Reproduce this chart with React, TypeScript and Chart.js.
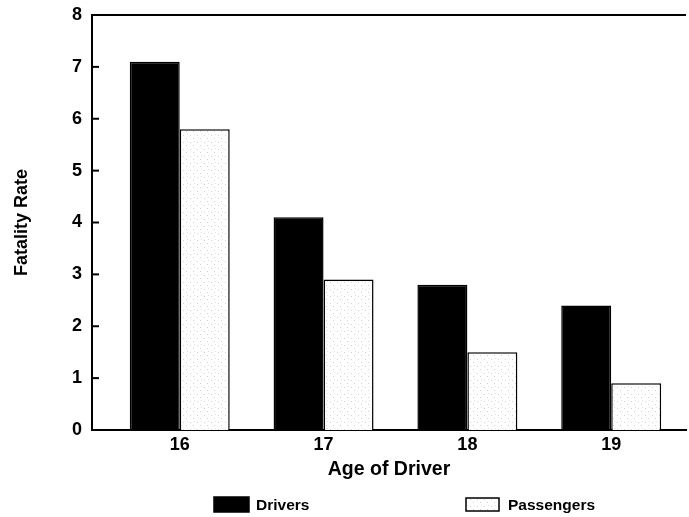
import React, { useEffect, useRef } from "react";
import { Chart, registerables } from "chart.js";

Chart.register(...registerables);

const ages = [16, 17, 18, 19];
const drivers = [7.1, 4.1, 2.8, 2.4];
const passengers = [5.8, 2.9, 1.5, 0.9];
const yTickValues = [0, 1, 2, 3, 4, 5, 6, 7, 8];
const seriesNames = ["Drivers", "Passengers"];

const FONT = '"Liberation Sans", Arial, Helvetica, sans-serif';

function makePattern(): CanvasPattern | string {
  const c = document.createElement("canvas");
  c.width = 7;
  c.height = 7;
  const g = c.getContext("2d");
  if (!g) return "#f6f6f6";
  g.fillStyle = "#ffffff";
  g.fillRect(0, 0, 7, 7);
  g.fillStyle = "#d2d2d2";
  g.fillRect(1, 2, 1, 1);
  g.fillRect(4, 5, 1, 1);
  g.fillStyle = "#e4e4e4";
  g.fillRect(5, 1, 1, 1);
  const p = g.createPattern(c, "repeat");
  return p || "#f6f6f6";
}

const framePlugin = {
  id: "frame",
  afterDraw(chart: any) {
    const { ctx, chartArea, scales } = chart;
    const y = scales.y;
    ctx.save();
    ctx.strokeStyle = "#000";
    ctx.lineWidth = 2;
    ctx.beginPath();
    ctx.moveTo(chartArea.left, chartArea.top);
    ctx.lineTo(chartArea.right, chartArea.top);
    ctx.stroke();
    yTickValues.forEach((v) => {
      const py = y.getPixelForValue(v);
      ctx.beginPath();
      ctx.moveTo(chartArea.left, py);
      ctx.lineTo(chartArea.left + 7, py);
      ctx.stroke();
    });
    ctx.restore();
  },
};

const legendPlugin = {
  id: "customLegend",
  afterDraw(chart: any) {
    const { ctx } = chart;
    const ds = chart.data.datasets;
    const items = [
      { box: [214, 497, 35, 15], tx: 256 },
      { box: [466, 498, 33, 13], tx: 508 },
    ];
    ctx.save();
    ctx.font = `bold 15.5px ${FONT}`;
    ctx.textBaseline = "middle";
    items.forEach((it, i) => {
      const [bx, by, bw, bh] = it.box;
      ctx.fillStyle = ds[i].backgroundColor;
      ctx.fillRect(bx, by, bw, bh);
      ctx.strokeStyle = "#000";
      ctx.lineWidth = 1.5;
      ctx.strokeRect(bx, by, bw, bh);
      ctx.fillStyle = "#000";
      ctx.fillText(seriesNames[i], it.tx, by + bh / 2 + 1);
    });
    ctx.restore();
  },
};

export default function App() {
  const ref = useRef<HTMLCanvasElement>(null);

  useEffect(() => {
    document.body.style.margin = "0";
    const canvas = ref.current;
    if (!canvas) return;
    const chart = new Chart(canvas, {
      type: "bar",
      data: {
        datasets: [
          {
            label: seriesNames[0],
            data: ages.map((a, i) => ({ x: a, y: drivers[i] })),
            backgroundColor: "#000000",
            borderColor: "#000000",
            borderWidth: 1.5,
            categoryPercentage: 0.695,
            barPercentage: 1.0,
          },
          {
            label: seriesNames[1],
            data: ages.map((a, i) => ({ x: a, y: passengers[i] })),
            backgroundColor: makePattern() as any,
            borderColor: "#000000",
            borderWidth: 1.5,
            categoryPercentage: 0.695,
            barPercentage: 1.0,
          },
        ],
      },
      options: {
        responsive: false,
        animation: false,
        devicePixelRatio: 1,
        layout: { padding: { top: 15, right: 3, left: 0, bottom: 36 } },
        plugins: {
          legend: { display: false },
          tooltip: { enabled: false },
        },
        scales: {
          x: {
            type: "linear",
            offset: false,
            min: 15.39,
            max: 19.52,
            grid: { display: false, drawTicks: false, offset: false },
            border: { display: true, color: "#000", width: 2 },
            afterBuildTicks: (s: any) => {
              s.ticks = ages.map((v) => ({ value: v }));
            },
            afterFit: (s: any) => {
              s.height = 51;
            },
            ticks: {
              color: "#000",
              font: { family: FONT, size: 18, weight: "bold" },
              padding: 4,
              callback: (v: any) => String(v),
            },
            title: {
              display: true,
              text: "Age of Driver",
              color: "#000",
              font: { family: FONT, size: 19.5, weight: "bold" },
              padding: { top: 0, bottom: 0 },
            },
          },
          y: {
            min: 0,
            max: 8,
            grid: { display: false, drawTicks: false },
            border: { display: true, color: "#000", width: 2 },
            afterBuildTicks: (s: any) => {
              s.ticks = yTickValues.map((v) => ({ value: v }));
            },
            afterFit: (s: any) => {
              s.width = 92;
              s.paddingTop = 0;
              s.paddingBottom = 0;
            },
            ticks: {
              color: "#000",
              font: { family: FONT, size: 18, weight: "bold" },
              padding: 10,
            },
            title: {
              display: true,
              text: "Fatality Rate",
              color: "#000",
              font: { family: FONT, size: 18, weight: "bold" },
              padding: { top: 11, bottom: 0 },
            },
          },
        },
      },
      plugins: [framePlugin, legendPlugin],
    } as any);
    return () => chart.destroy();
  }, []);

  return (
    <div style={{ width: 689, height: 517, background: "#fff" }}>
      <canvas ref={ref} width={689} height={517} style={{ display: "block" }} />
    </div>
  );
}
